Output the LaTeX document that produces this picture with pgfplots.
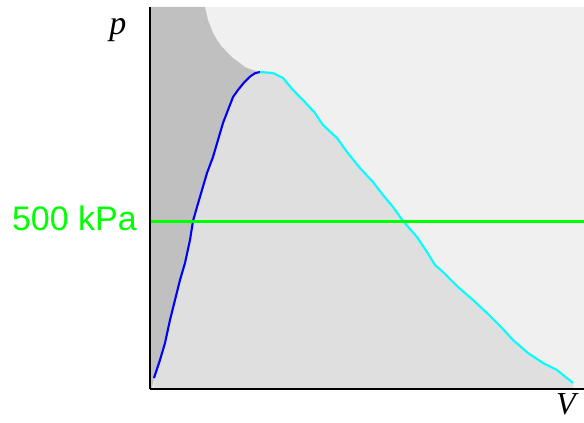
\documentclass[border=0pt]{standalone}
\usepackage{fontspec}
\setmainfont{Liberation Sans}
\newfontfamily\labelfont{Liberation Serif}
\usepackage{pgfplots}
\pgfplotsset{compat=1.18}

\definecolor{liquidzone}{HTML}{C0C0C0}
\definecolor{gaszone}{HTML}{F0F0F0}
\definecolor{domezone}{HTML}{DFDFDF}
\definecolor{isobar}{HTML}{00FF00}
\definecolor{risingcol}{HTML}{0000FF}
\definecolor{fallingcol}{HTML}{00FFFF}

% rising branch (blue), bottom to peak
\pgfplotstableread{
V p
4 32.7
10 86.3
15 136.9
20 205.4
25 264.9
30 324.4
35 375.0
40 443.5
43 500.0
47 541.7
52 592.3
57 642.9
63 690.5
68 741.1
73 791.7
78 830.4
83 869.0
88 890.0
94 912.0
100 930.0
105 940.0
110 943.5
}\risingbranch

% falling branch (cyan), peak to bottom
\pgfplotstableread{
V p
110 943.5
123 940.5
133 925.6
143 889.9
153 860.1
165 821.4
173 785.7
187 747.0
197 705.4
210 657.7
223 616.1
233 577.4
243 541.7
253 500.0
267 452.4
277 407.7
285 369.0
293 348.2
308 303.6
323 264.9
337 226.2
352 181.5
363 145.8
378 107.1
393 77.4
407 56.5
423 17.9
}\fallingbranch

\begin{document}
\begin{tikzpicture}
\useasboundingbox (0,0) rectangle (584bp,423bp);
\begin{axis}[
  at={(150bp,34bp)}, anchor=south west,
  scale only axis, width=434bp, height=382bp,
  xmin=0, xmax=434, ymin=0, ymax=1137,
  axis lines=left, axis on top,
  axis line style={-, line width=2.4bp, black},
  xtick=\empty, ytick=\empty,
  axis background/.style={fill=gaszone},
  clip mode=individual,
  xlabel={\labelfont\itshape V},
  xlabel style={at={(rel axis cs:0.9585,-0.04)}, anchor=center,
    font=\fontsize{32bp}{36bp}\selectfont},
  ylabel={\labelfont\itshape p},
  ylabel style={at={(rel axis cs:-0.074,0.94)}, anchor=center, rotate=-90,
    font=\fontsize{34bp}{38bp}\selectfont},
]
% region under the curve
\addplot[fill=domezone, draw=none] table {\risingbranch} \closedcycle;
\addplot[fill=domezone, draw=none] table {\fallingbranch} \closedcycle;
% region to the left of the rising branch, bounded above by the boundary curve
\addplot[fill=liquidzone, draw=none] coordinates {
  (0,0) (0,1137) (55,1137) (58,1098) (63,1060) (67,1039) (72,1018) (77,1003)
  (83,985) (90,970) (95,958) (103,949) (110,943.5)
  (105,940.0) (100,930.0) (94,912.0) (88,890.0) (83,869.0) (78,830.4) (73,791.7)
  (68,741.1) (63,690.5) (57,642.9) (52,592.3) (47,541.7) (43,500.0) (40,443.5)
  (35,375.0) (30,324.4) (25,264.9) (20,205.4) (15,136.9) (10,86.3) (4,32.7)
  (2,0)} -- cycle;
% the curve
\addplot[risingcol, line width=2.1bp] table {\risingbranch};
\addplot[fallingcol, line width=2.1bp] table {\fallingbranch};
% isobar
\addplot[isobar, line width=3bp] coordinates {(0,500) (434,500)};
\node[anchor=east, inner sep=0pt, text=isobar, xshift=-13bp, yshift=3bp,
  font=\fontsize{34bp}{40bp}\selectfont] at (axis cs:0,500) {500 kPa};
\end{axis}
\end{tikzpicture}
\end{document}
